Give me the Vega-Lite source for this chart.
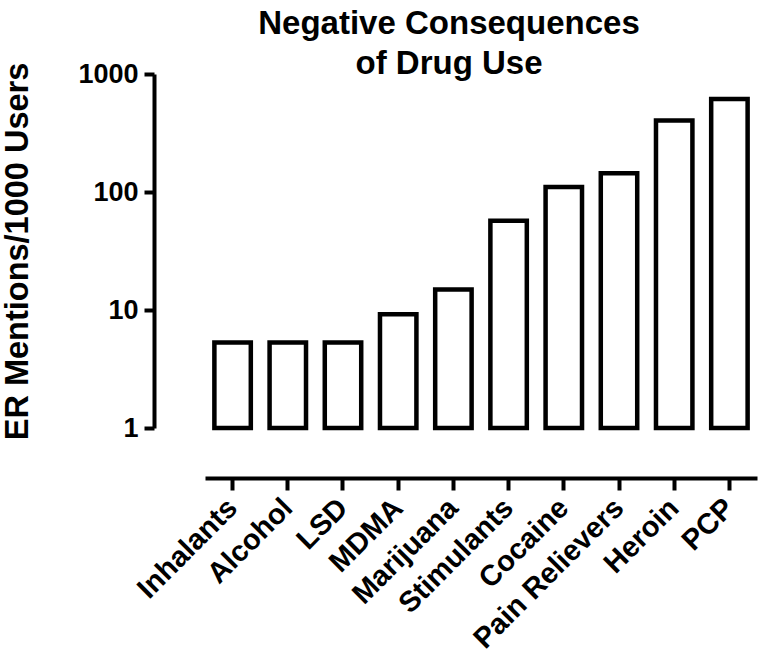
{
  "$schema": "https://vega.github.io/schema/vega-lite/v6.json",
  "autosize": "none",
  "width": 552,
  "height": 354,
  "padding": {"left": 205, "top": 74, "right": 2, "bottom": 230},
  "background": "white",
  "title": {
    "text": ["Negative Consequences", "of Drug Use"],
    "font": "Liberation Sans",
    "fontSize": 33,
    "fontWeight": "bold",
    "color": "black",
    "lineHeight": 40,
    "anchor": "middle",
    "dx": -32,
    "offset": -21
  },
  "config": {
    "view": {"stroke": null},
    "font": "Liberation Sans"
  },
  "data": {
    "values": [
      {"drug": "Inhalants", "value": 5.3},
      {"drug": "Alcohol", "value": 5.3},
      {"drug": "LSD", "value": 5.3},
      {"drug": "MDMA", "value": 9.2},
      {"drug": "Marijuana", "value": 14.9},
      {"drug": "Stimulants", "value": 57},
      {"drug": "Cocaine", "value": 110},
      {"drug": "Pain Relievers", "value": 144},
      {"drug": "Heroin", "value": 403},
      {"drug": "PCP", "value": 615}
    ]
  },
  "mark": {"type": "bar", "fill": "white", "stroke": "black", "strokeWidth": 4.5},
  "encoding": {
    "x": {
      "field": "drug",
      "type": "nominal",
      "sort": null,
      "scale": {"paddingInner": 0.34, "paddingOuter": 0.17},
      "axis": {
        "title": null,
        "offset": 50,
        "domainColor": "black",
        "domainWidth": 4,
        "tickColor": "black",
        "tickWidth": 4,
        "tickSize": 12,
        "labelAngle": -45,
        "labelAlign": "right",
        "labelBaseline": "middle",
        "labelFont": "Liberation Sans",
        "labelFontSize": 29,
        "labelFontWeight": "bold",
        "labelColor": "black",
        "labelPadding": 13,
        "labelOverlap": false,
        "labelBound": false,
        "labelLimit": 0
      }
    },
    "y": {
      "field": "value",
      "type": "quantitative",
      "scale": {"type": "log", "domain": [1, 1000], "nice": false},
      "axis": {
        "title": "ER Mentions/1000 Users",
        "offset": 51,
        "values": [1, 10, 100, 1000],
        "format": "d",
        "grid": false,
        "domainColor": "black",
        "domainWidth": 4,
        "tickColor": "black",
        "tickWidth": 4,
        "tickSize": 10,
        "labelFont": "Liberation Sans",
        "labelFontSize": 27,
        "labelFontWeight": "bold",
        "labelColor": "black",
        "labelPadding": 6,
        "titleFont": "Liberation Sans",
        "titleFontSize": 32.5,
        "titleFontWeight": "bold",
        "titleColor": "black",
        "titlePadding": 43
      }
    },
    "y2": {"datum": 1}
  }
}
